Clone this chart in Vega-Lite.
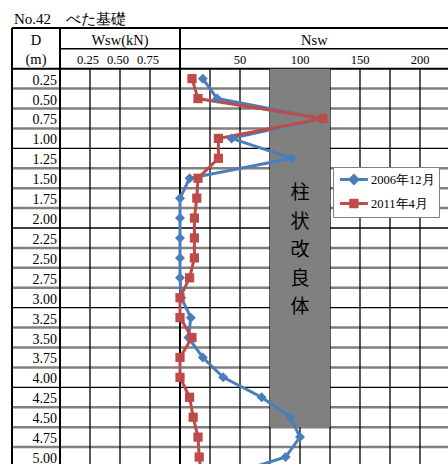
{
  "$schema": "https://vega.github.io/schema/vega-lite/v6.json",
  "width": 448,
  "height": 466,
  "autosize": {"type": "fit", "contains": "padding"},
  "padding": 0,
  "background": "white",
  "config": {"view": {"stroke": null}},
  "datasets": {
    "series": [
      {"series": "2006年12月", "depth": 0.25, "nsw": 19},
      {"series": "2006年12月", "depth": 0.5, "nsw": 31},
      {"series": "2006年12月", "depth": 0.75, "nsw": 118},
      {"series": "2006年12月", "depth": 1.0, "nsw": 43},
      {"series": "2006年12月", "depth": 1.25, "nsw": 93},
      {"series": "2006年12月", "depth": 1.5, "nsw": 8},
      {"series": "2006年12月", "depth": 1.75, "nsw": 0},
      {"series": "2006年12月", "depth": 2.0, "nsw": 0},
      {"series": "2006年12月", "depth": 2.25, "nsw": 0},
      {"series": "2006年12月", "depth": 2.5, "nsw": 0},
      {"series": "2006年12月", "depth": 2.75, "nsw": 0},
      {"series": "2006年12月", "depth": 3.0, "nsw": 1},
      {"series": "2006年12月", "depth": 3.25, "nsw": 9},
      {"series": "2006年12月", "depth": 3.5, "nsw": 7},
      {"series": "2006年12月", "depth": 3.75, "nsw": 19},
      {"series": "2006年12月", "depth": 4.0, "nsw": 36},
      {"series": "2006年12月", "depth": 4.25, "nsw": 68},
      {"series": "2006年12月", "depth": 4.5, "nsw": 92},
      {"series": "2006年12月", "depth": 4.75, "nsw": 100},
      {"series": "2006年12月", "depth": 5.0, "nsw": 88},
      {"series": "2006年12月", "depth": 5.25, "nsw": 35},
      {"series": "2011年4月", "depth": 0.25, "nsw": 10},
      {"series": "2011年4月", "depth": 0.5, "nsw": 15},
      {"series": "2011年4月", "depth": 0.75, "nsw": 119},
      {"series": "2011年4月", "depth": 1.0, "nsw": 32},
      {"series": "2011年4月", "depth": 1.25, "nsw": 32},
      {"series": "2011年4月", "depth": 1.5, "nsw": 15},
      {"series": "2011年4月", "depth": 1.75, "nsw": 14},
      {"series": "2011年4月", "depth": 2.0, "nsw": 12},
      {"series": "2011年4月", "depth": 2.25, "nsw": 12},
      {"series": "2011年4月", "depth": 2.5, "nsw": 12},
      {"series": "2011年4月", "depth": 2.75, "nsw": 8},
      {"series": "2011年4月", "depth": 3.0, "nsw": 0},
      {"series": "2011年4月", "depth": 3.25, "nsw": 0},
      {"series": "2011年4月", "depth": 3.5, "nsw": 10},
      {"series": "2011年4月", "depth": 3.75, "nsw": 0},
      {"series": "2011年4月", "depth": 4.0, "nsw": 0},
      {"series": "2011年4月", "depth": 4.25, "nsw": 8},
      {"series": "2011年4月", "depth": 4.5, "nsw": 11},
      {"series": "2011年4月", "depth": 4.75, "nsw": 15},
      {"series": "2011年4月", "depth": 5.0, "nsw": 16},
      {"series": "2011年4月", "depth": 5.25, "nsw": 18}
    ],
    "rows": [
      {"depth": 0.25, "label": "0.25"}, {"depth": 0.5, "label": "0.50"}, {"depth": 0.75, "label": "0.75"}, {"depth": 1.0, "label": "1.00"},
      {"depth": 1.25, "label": "1.25"}, {"depth": 1.5, "label": "1.50"}, {"depth": 1.75, "label": "1.75"}, {"depth": 2.0, "label": "2.00"},
      {"depth": 2.25, "label": "2.25"}, {"depth": 2.5, "label": "2.50"}, {"depth": 2.75, "label": "2.75"}, {"depth": 3.0, "label": "3.00"},
      {"depth": 3.25, "label": "3.25"}, {"depth": 3.5, "label": "3.50"}, {"depth": 3.75, "label": "3.75"}, {"depth": 4.0, "label": "4.00"},
      {"depth": 4.25, "label": "4.25"}, {"depth": 4.5, "label": "4.50"}, {"depth": 4.75, "label": "4.75"}, {"depth": 5.0, "label": "5.00"}
    ],
    "hlines": [
      {"d": 0.375, "w1": -0.4, "kind": "gray"}, {"d": 0.625, "w1": -0.4, "kind": "gray"}, {"d": 0.875, "w1": -0.4, "kind": "gray"},
      {"d": 1.125, "w1": -0.4, "kind": "black"},
      {"d": 1.375, "w1": -0.4, "kind": "gray"}, {"d": 1.625, "w1": -0.4, "kind": "gray"}, {"d": 1.875, "w1": -0.4, "kind": "gray"},
      {"d": 2.125, "w1": -0.4, "kind": "black"},
      {"d": 2.375, "w1": -0.4, "kind": "gray"}, {"d": 2.625, "w1": -0.4, "kind": "gray"}, {"d": 2.875, "w1": -0.4, "kind": "gray"},
      {"d": 3.125, "w1": -0.4, "kind": "black"},
      {"d": 3.375, "w1": -0.4, "kind": "gray"}, {"d": 3.625, "w1": -0.4, "kind": "gray"}, {"d": 3.875, "w1": -0.4, "kind": "gray"},
      {"d": 4.125, "w1": -0.4, "kind": "black"},
      {"d": 4.375, "w1": -0.4, "kind": "gray"}, {"d": 4.625, "w1": -0.4, "kind": "gray"}, {"d": 4.875, "w1": -0.4, "kind": "gray"},
      {"d": -0.3875, "w1": -0.4, "kind": "frame"}, {"d": 0.125, "w1": -0.4, "kind": "frame"},
      {"d": -0.125, "w1": 0, "kind": "mid"}
    ],
    "vframe": [{"v": -0.4}, {"v": 0}, {"v": 1}],
    "wgrid": [{"v": 0.25}, {"v": 0.5}, {"v": 0.75}],
    "ngrid": [{"v": 25}, {"v": 50}, {"v": 75}, {"v": 100}, {"v": 125}, {"v": 150}, {"v": 175}, {"v": 200}],
    "box": [{"n1": 75, "n2": 125, "d1": 0.125, "d2": 4.625, "nc": 100, "dc": 1.6875, "label": ["柱", "状", "改", "良", "体"]}],
    "wticks": [{"v": 0.25, "label": "0.25"}, {"v": 0.5, "label": "0.50"}, {"v": 0.75, "label": "0.75"}],
    "nticks": [{"v": 50, "label": "50"}, {"v": 100, "label": "100"}, {"v": 150, "label": "150"}, {"v": 200, "label": "200"}],
    "head": [
      {"label": "D", "w": -0.2, "d": -0.17},
      {"label": "(m)", "w": -0.2, "d": 0.0625},
      {"label": "Wsw(kN)", "w": 0.5, "d": -0.17}
    ],
    "nhead": [{"label": "Nsw", "n": 112, "d": -0.17}],
    "title": [{"label": "No.42　べた基礎", "w": -0.38333, "d": -0.43125}]
  },
  "layer": [
    {
      "data": {"name": "hlines"},
      "transform": [{"filter": "datum.kind === 'gray'"}],
      "mark": {"type": "rule", "stroke": "#808080", "strokeWidth": 2.5, "clip": true},
      "encoding": {
        "x": {"field": "w1", "type": "quantitative", "scale": {"domain": [-0.5, 3.233333], "nice": false, "zero": false}, "axis": null},
        "x2": {"datum": 3.233333},
        "y": {"field": "d", "type": "quantitative", "scale": {"domain": [-0.7375, 5.0875], "reverse": true, "nice": false, "zero": false}, "axis": null}
      }
    },
    {
      "data": {"name": "hlines"},
      "transform": [{"filter": "datum.kind === 'black'"}],
      "mark": {"type": "rule", "stroke": "#000000", "strokeWidth": 1.3, "clip": true},
      "encoding": {
        "x": {"field": "w1", "type": "quantitative", "scale": {"domain": [-0.5, 3.233333], "nice": false, "zero": false}, "axis": null},
        "x2": {"datum": 3.233333},
        "y": {"field": "d", "type": "quantitative", "scale": {"domain": [-0.7375, 5.0875], "reverse": true, "nice": false, "zero": false}, "axis": null}
      }
    },
    {
      "data": {"name": "hlines"},
      "transform": [{"filter": "datum.kind === 'frame'"}],
      "mark": {"type": "rule", "stroke": "#000000", "strokeWidth": 2, "clip": true},
      "encoding": {
        "x": {"field": "w1", "type": "quantitative", "scale": {"domain": [-0.5, 3.233333], "nice": false, "zero": false}, "axis": null},
        "x2": {"datum": 3.233333},
        "y": {"field": "d", "type": "quantitative", "scale": {"domain": [-0.7375, 5.0875], "reverse": true, "nice": false, "zero": false}, "axis": null}
      }
    },
    {
      "data": {"name": "hlines"},
      "transform": [{"filter": "datum.kind === 'mid'"}],
      "mark": {"type": "rule", "stroke": "#000000", "strokeWidth": 1.5, "clip": true},
      "encoding": {
        "x": {"field": "w1", "type": "quantitative", "scale": {"domain": [-0.5, 3.233333], "nice": false, "zero": false}, "axis": null},
        "x2": {"datum": 3.233333},
        "y": {"field": "d", "type": "quantitative", "scale": {"domain": [-0.7375, 5.0875], "reverse": true, "nice": false, "zero": false}, "axis": null}
      }
    },
    {
      "data": {"name": "wgrid"},
      "mark": {"type": "rule", "stroke": "#000000", "strokeWidth": 1.3, "clip": true},
      "encoding": {
        "x": {"field": "v", "type": "quantitative", "scale": {"domain": [-0.5, 3.233333], "nice": false, "zero": false}, "axis": null},
        "y": {"datum": 0.125, "type": "quantitative", "scale": {"domain": [-0.7375, 5.0875], "reverse": true, "nice": false, "zero": false}, "axis": null},
        "y2": {"datum": 5.0875}
      }
    },
    {
      "data": {"name": "ngrid"},
      "mark": {"type": "rule", "stroke": "#000000", "strokeWidth": 1.3, "clip": true},
      "encoding": {
        "x": {"field": "v", "type": "quantitative", "scale": {"domain": [-150, 223.33333], "nice": false, "zero": false}, "axis": null},
        "y": {"datum": 0.125, "type": "quantitative", "scale": {"domain": [-0.7375, 5.0875], "reverse": true, "nice": false, "zero": false}, "axis": null},
        "y2": {"datum": 5.0875}
      }
    },
    {
      "data": {"name": "vframe"},
      "mark": {"type": "rule", "stroke": "#000000", "strokeWidth": 2, "clip": true},
      "encoding": {
        "x": {"field": "v", "type": "quantitative", "scale": {"domain": [-0.5, 3.233333], "nice": false, "zero": false}, "axis": null},
        "y": {"datum": -0.3875, "type": "quantitative", "scale": {"domain": [-0.7375, 5.0875], "reverse": true, "nice": false, "zero": false}, "axis": null},
        "y2": {"datum": 5.0875}
      }
    },
    {
      "data": {"name": "box"},
      "mark": {"type": "rect", "fill": "#808080"},
      "encoding": {
        "x": {"field": "n1", "type": "quantitative", "scale": {"domain": [-150, 223.33333], "nice": false, "zero": false}, "axis": null},
        "x2": {"field": "n2"},
        "y": {"field": "d1", "type": "quantitative", "scale": {"domain": [-0.7375, 5.0875], "reverse": true, "nice": false, "zero": false}, "axis": null},
        "y2": {"field": "d2"}
      }
    },
    {
      "data": {"name": "box"},
      "mark": {"type": "text", "font": "Noto Sans CJK JP", "fontSize": 19, "lineHeight": 28.5, "color": "#000000", "align": "center", "baseline": "middle"},
      "encoding": {
        "x": {"field": "nc", "type": "quantitative", "scale": {"domain": [-150, 223.33333], "nice": false, "zero": false}, "axis": null},
        "y": {"field": "dc", "type": "quantitative", "scale": {"domain": [-0.7375, 5.0875], "reverse": true, "nice": false, "zero": false}, "axis": null},
        "text": {"field": "label", "type": "nominal"}
      }
    },
    {
      "data": {"name": "series"},
      "mark": {"type": "line", "strokeWidth": 3, "clip": true},
      "encoding": {
        "x": {"field": "nsw", "type": "quantitative", "scale": {"domain": [-150, 223.33333], "nice": false, "zero": false}, "axis": null},
        "y": {"field": "depth", "type": "quantitative", "scale": {"domain": [-0.7375, 5.0875], "reverse": true, "nice": false, "zero": false}, "axis": null},
        "order": {"field": "depth", "type": "quantitative"},
        "color": {
          "field": "series", "type": "nominal",
          "scale": {"domain": ["2006年12月", "2011年4月"], "range": ["#4A7EBB", "#BE4B48"]},
          "legend": {
            "orient": "none", "legendX": 333, "legendY": 167, "title": null,
            "padding": 4, "fillColor": "white", "strokeColor": "#808080",
            "symbolSize": 196, "symbolStrokeWidth": 3, "symbolOpacity": 1,
            "labelFont": "Liberation Serif", "labelFontSize": 12.5, "labelColor": "#000000",
            "labelOffset": 17, "rowPadding": 4,
            "encode": {
              "symbols": {
                "update": {
                  "shape": {"signal": "datum.value === '2006年12月' ? 'M-0.8,0H3.2M1.2,-0.55L1.75,0L1.2,0.55L0.65,0Z' : 'M-0.8,0H3.2M0.75,-0.45H1.65V0.45H0.75Z'"},
                  "stroke": {"signal": "scale('color', datum.value)"},
                  "fill": {"signal": "scale('color', datum.value)"},
                  "strokeWidth": {"value": 3},
                  "opacity": {"value": 1}
                }
              }
            }
          }
        }
      }
    },
    {
      "data": {"name": "series"},
      "transform": [{"filter": "datum.series === '2006年12月'"}],
      "mark": {"type": "point", "shape": "diamond", "filled": true, "opacity": 1, "size": 100, "clip": true},
      "encoding": {
        "x": {"field": "nsw", "type": "quantitative", "scale": {"domain": [-150, 223.33333], "nice": false, "zero": false}, "axis": null},
        "y": {"field": "depth", "type": "quantitative", "scale": {"domain": [-0.7375, 5.0875], "reverse": true, "nice": false, "zero": false}, "axis": null},
        "color": {"field": "series", "type": "nominal", "scale": {"domain": ["2006年12月", "2011年4月"], "range": ["#4A7EBB", "#BE4B48"]}}
      }
    },
    {
      "data": {"name": "series"},
      "transform": [{"filter": "datum.series === '2011年4月'"}],
      "mark": {"type": "point", "shape": "square", "filled": true, "opacity": 1, "size": 85, "clip": true},
      "encoding": {
        "x": {"field": "nsw", "type": "quantitative", "scale": {"domain": [-150, 223.33333], "nice": false, "zero": false}, "axis": null},
        "y": {"field": "depth", "type": "quantitative", "scale": {"domain": [-0.7375, 5.0875], "reverse": true, "nice": false, "zero": false}, "axis": null},
        "color": {"field": "series", "type": "nominal", "scale": {"domain": ["2006年12月", "2011年4月"], "range": ["#4A7EBB", "#BE4B48"]}}
      }
    },
    {
      "data": {"name": "title"},
      "mark": {"type": "text", "font": "Liberation Serif", "fontSize": 15, "align": "left", "baseline": "alphabetic", "color": "#000000"},
      "encoding": {
        "x": {"field": "w", "type": "quantitative", "scale": {"domain": [-0.5, 3.233333], "nice": false, "zero": false}, "axis": null},
        "y": {"field": "d", "type": "quantitative", "scale": {"domain": [-0.7375, 5.0875], "reverse": true, "nice": false, "zero": false}, "axis": null},
        "text": {"field": "label", "type": "nominal"}
      }
    },
    {
      "data": {"name": "head"},
      "mark": {"type": "text", "font": "Liberation Serif", "fontSize": 14.5, "align": "center", "baseline": "alphabetic", "color": "#000000"},
      "encoding": {
        "x": {"field": "w", "type": "quantitative", "scale": {"domain": [-0.5, 3.233333], "nice": false, "zero": false}, "axis": null},
        "y": {"field": "d", "type": "quantitative", "scale": {"domain": [-0.7375, 5.0875], "reverse": true, "nice": false, "zero": false}, "axis": null},
        "text": {"field": "label", "type": "nominal"}
      }
    },
    {
      "data": {"name": "nhead"},
      "mark": {"type": "text", "font": "Liberation Serif", "fontSize": 14.5, "align": "center", "baseline": "alphabetic", "color": "#000000"},
      "encoding": {
        "x": {"field": "n", "type": "quantitative", "scale": {"domain": [-150, 223.33333], "nice": false, "zero": false}, "axis": null},
        "y": {"field": "d", "type": "quantitative", "scale": {"domain": [-0.7375, 5.0875], "reverse": true, "nice": false, "zero": false}, "axis": null},
        "text": {"field": "label", "type": "nominal"}
      }
    },
    {
      "data": {"name": "wticks"},
      "mark": {"type": "text", "font": "Liberation Serif", "fontSize": 12.5, "align": "center", "baseline": "alphabetic", "dx": -2, "color": "#000000"},
      "encoding": {
        "x": {"field": "v", "type": "quantitative", "scale": {"domain": [-0.5, 3.233333], "nice": false, "zero": false}, "axis": null},
        "y": {"datum": 0.0625, "type": "quantitative", "scale": {"domain": [-0.7375, 5.0875], "reverse": true, "nice": false, "zero": false}, "axis": null},
        "text": {"field": "label", "type": "nominal"}
      }
    },
    {
      "data": {"name": "nticks"},
      "mark": {"type": "text", "font": "Liberation Serif", "fontSize": 12.5, "align": "center", "baseline": "alphabetic", "color": "#000000"},
      "encoding": {
        "x": {"field": "v", "type": "quantitative", "scale": {"domain": [-150, 223.33333], "nice": false, "zero": false}, "axis": null},
        "y": {"datum": 0.0625, "type": "quantitative", "scale": {"domain": [-0.7375, 5.0875], "reverse": true, "nice": false, "zero": false}, "axis": null},
        "text": {"field": "label", "type": "nominal"}
      }
    },
    {
      "data": {"name": "rows"},
      "mark": {"type": "text", "font": "Liberation Serif", "fontSize": 14, "align": "right", "baseline": "alphabetic", "dy": 6, "color": "#000000"},
      "encoding": {
        "x": {"datum": -0.025, "type": "quantitative", "scale": {"domain": [-0.5, 3.233333], "nice": false, "zero": false}, "axis": null},
        "y": {"field": "depth", "type": "quantitative", "scale": {"domain": [-0.7375, 5.0875], "reverse": true, "nice": false, "zero": false}, "axis": null},
        "text": {"field": "label", "type": "nominal"}
      }
    }
  ],
  "resolve": {"scale": {"x": "independent"}}
}
